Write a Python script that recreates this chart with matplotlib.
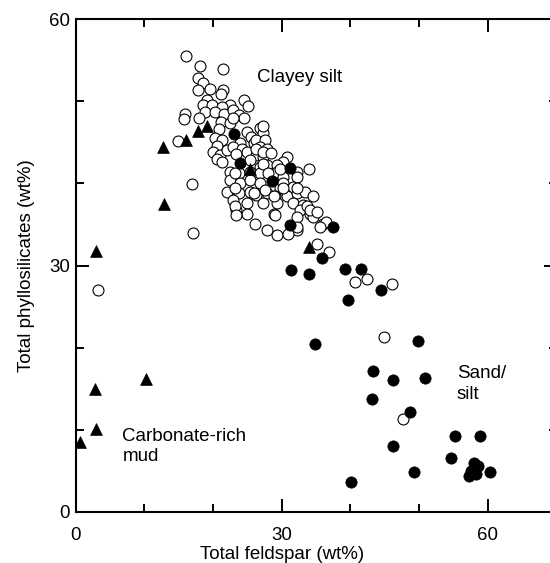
import matplotlib
matplotlib.use("Agg")
import matplotlib.pyplot as plt
from matplotlib.ticker import MultipleLocator

plt.rcParams["font.family"] = ["Liberation Sans", "DejaVu Sans"]

# Clayey silt samples (open circles): feldspar, phyllosilicates (wt%)
clay_feld = [
    16.1, 18.1, 21.4, 17.8, 18.6, 19.5, 17.8, 21.4, 21.2, 19.1,
    18.6, 19.8, 22.5, 21.3, 24.5, 25.1, 18.8, 20.3, 21.6, 22.9,
    23.8, 24.5, 15.9, 15.8, 18.0, 21.2, 22.5, 20.8, 24.9, 25.5,
    26.8, 27.3, 25.9, 23.9, 20.3, 21.3, 20.5, 20.0, 21.0, 22.0,
    22.9, 24.2, 23.4, 24.9, 26.3, 27.6, 26.8, 27.8, 26.3, 25.4,
    27.3, 30.7, 30.2, 33.9, 32.2, 27.8, 29.3, 26.8, 20.5, 21.3,
    22.5, 23.7, 25.4, 26.8, 29.3, 30.2, 32.2, 22.5, 23.9, 25.4,
    26.8, 22.0, 23.7, 25.4, 26.3, 27.8, 29.7, 30.2, 31.7, 29.0,
    30.7, 32.2, 33.4, 34.6, 22.9, 24.9, 27.3, 29.3, 31.7, 33.1,
    23.4, 24.9, 28.8, 32.6, 34.1, 23.2, 32.2, 23.4, 29.0, 26.1,
    27.8, 29.3, 36.0, 17.1, 16.9, 33.6, 34.6, 36.5, 35.6, 32.2,
    30.9, 35.1, 36.9, 40.7, 42.4, 46.1, 44.9, 3.3, 47.7, 27.3,
    22.9, 26.3, 27.3, 28.5, 29.7, 27.3, 28.0, 23.2, 23.2, 27.6,
    30.2, 32.2, 25.9, 28.8, 34.1, 35.1, 32.2, 14.9,
]
clay_phyl = [
    55.5, 54.3, 53.9, 52.8, 52.2, 51.5, 51.4, 51.4, 50.9, 50.1,
    49.5, 49.5, 49.5, 49.3, 50.1, 49.4, 48.7, 48.7, 48.5, 48.9,
    48.3, 47.9, 48.4, 47.8, 47.9, 47.5, 47.3, 46.6, 46.3, 45.7,
    46.7, 46.1, 44.9, 44.9, 45.5, 45.3, 44.6, 43.8, 43.4, 44.0,
    44.4, 44.2, 43.6, 43.8, 45.3, 45.3, 44.4, 44.2, 43.4, 42.8,
    43.2, 43.2, 42.6, 41.8, 41.4, 42.2, 42.2, 42.0, 43.0, 42.6,
    41.4, 41.2, 41.4, 41.2, 41.4, 40.8, 40.8, 40.4, 40.0, 40.4,
    40.0, 39.0, 38.8, 39.0, 38.6, 38.8, 39.4, 40.0, 39.6, 38.4,
    38.4, 38.8, 39.0, 38.4, 38.0, 37.6, 37.6, 37.6, 37.6, 37.4,
    36.7, 36.3, 36.3, 36.7, 36.3, 37.3, 35.9, 36.1, 36.1, 35.1,
    34.3, 33.7, 35.1, 33.9, 39.9, 37.3, 35.9, 35.3, 34.7, 34.3,
    33.8, 32.6, 31.6, 28.0, 28.4, 27.8, 21.3, 27.0, 11.3, 47.0,
    47.9, 44.2, 43.8, 43.7, 41.8, 42.4, 41.2, 41.2, 39.4, 39.2,
    39.4, 39.4, 38.8, 38.4, 36.7, 36.5, 34.7, 45.2,
]

# Sand/silt samples (filled circles)
sand_feld = [
    23.0, 23.9, 28.6, 31.2, 31.2, 37.5, 35.8, 31.3, 33.9, 39.2,
    41.5, 39.7, 44.5, 34.9, 49.8, 43.3, 46.2, 50.9, 43.2, 48.6,
    55.2, 58.9, 46.2, 54.6, 49.2, 40.1, 58.0, 58.6, 57.6, 57.2,
    58.2, 60.3,
]
sand_phyl = [
    46.0, 42.5, 40.3, 41.9, 34.9, 34.7, 30.9, 29.4, 29.0, 29.6,
    29.6, 25.8, 27.0, 20.4, 20.8, 17.2, 16.1, 16.3, 13.7, 12.2,
    9.2, 9.2, 8.0, 6.6, 4.9, 3.6, 6.0, 5.6, 5.0, 4.4,
    4.6, 4.9,
]

# Carbonate-rich mud samples (filled triangles)
carb_feld = [0.6, 2.9, 2.8, 10.3, 2.95, 12.8, 12.7, 16.1, 17.8, 19.1, 25.4, 33.9]
carb_phyl = [8.55, 10.1, 15.0, 16.2, 31.8, 37.5, 44.4, 45.3, 46.4, 47.0, 41.8, 32.3]

fig = plt.figure(figsize=(5.5, 5.63), dpi=100)
ax = fig.add_axes([0.1376, 0.0906, 0.8744, 0.8756])

ax.scatter(clay_feld, clay_phyl, s=62, marker="o", facecolor="white",
           edgecolor="black", linewidth=0.8, zorder=2)
ax.scatter(sand_feld, sand_phyl, s=66, marker="o", facecolor="black",
           edgecolor="black", linewidth=0.5, zorder=3)
ax.scatter(carb_feld, carb_phyl, s=72, marker="^", facecolor="black",
           edgecolor="black", linewidth=0.5, zorder=4)

ax.set_xlim(0, 70)
ax.set_ylim(0, 60)
ax.xaxis.set_major_locator(MultipleLocator(30))
ax.xaxis.set_minor_locator(MultipleLocator(10))
ax.yaxis.set_major_locator(MultipleLocator(30))
ax.yaxis.set_minor_locator(MultipleLocator(10))
ax.tick_params(which="both", direction="in", top=True, right=True,
               width=1.4, labelsize=13.5)
ax.tick_params(which="major", length=9.5)
ax.tick_params(which="minor", length=6)
ax.tick_params(axis="x", pad=11)
ax.tick_params(axis="y", pad=4)
for sp in ax.spines.values():
    sp.set_linewidth(1.5)

# x label sits under the 30 tick rather than the axes centre
ax.set_xlabel("Total feldspar (wt%)", fontsize=13.5)
ax.xaxis.set_label_coords(30 / 70, -0.068)
ax.set_ylabel("Total phyllosilicates (wt%)", fontsize=13.5, labelpad=10)

ax.text(26.4, 52.9, "Clayey silt", fontsize=13.5, va="center", ha="left")
ax.text(55.5, 15.6, "Sand/\nsilt", fontsize=13.5, va="center", ha="left",
        linespacing=1.3)
ax.text(6.8, 8.0, "Carbonate-rich\nmud", fontsize=13.5, va="center",
        ha="left", linespacing=1.2)

fig.savefig("out.png", dpi=100)
